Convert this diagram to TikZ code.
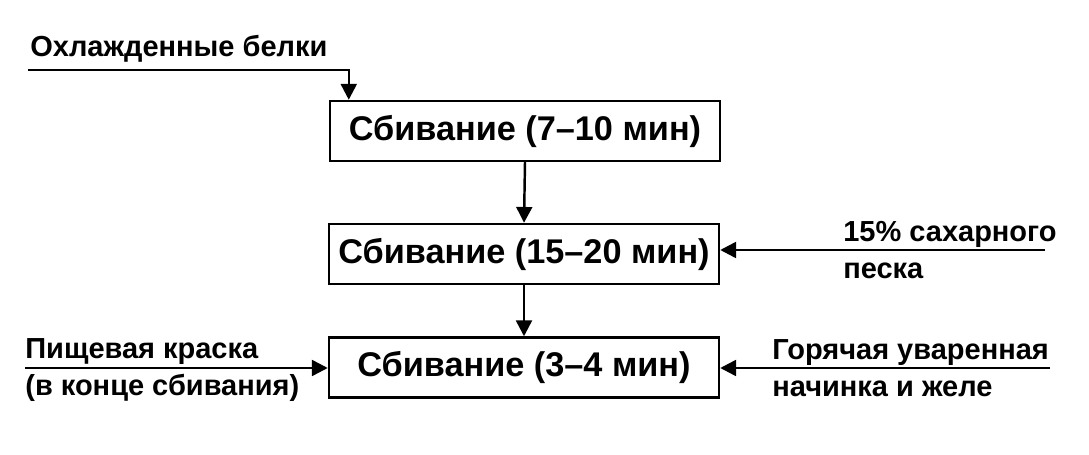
\documentclass[tikz,border=0pt]{standalone}
\usepackage{fontspec}
\setmainfont{Liberation Sans}
\usepackage{tikz}
\usetikzlibrary{arrows.meta, positioning, calc}

\begin{document}
\begin{tikzpicture}[
    stagebox/.style={draw, line width=1.4pt, minimum width=7.8cm, minimum height=1.2cm,
        font=\fontsize{19.5}{22}\selectfont\bfseries, inner sep=0pt},
    inlabel/.style={font=\fontsize{16.5}{21}\selectfont\bfseries, align=left, inner sep=0pt},
    feed/.style={line width=1.4pt, -{Triangle[length=9pt, width=9pt]}},
    >=Stealth
]
\useasboundingbox (0,0) rectangle (21.78,-9.1);

% --- Stages (center column) ---
\node[stagebox] (st1) at (10.5,-2.62) {Сбивание (7--10 мин)};
\node[stagebox] (st2) at (10.48,-5.08) {Сбивание (15--20 мин)};
\node[stagebox] (st3) at (10.48,-7.35) {Сбивание (3--4 мин)};

\draw[feed] (st1.south) -- (st2.north);
\draw[feed] (st2.south) -- (st3.north);

% --- Whites (top left) ---
\coordinate (whites) at (0.56,-1.4);
\node[inlabel, anchor=base west] (whiteslbl) at (0.6,-1.14) {Охлажденные белки};
\draw[feed] (whites) -| ($(st1.north west)+(0.4,0)$);

% --- Sugar (right of stage 2) ---
\coordinate (sugar) at (20.9,-5.0);
\node[inlabel, anchor=west] (sugarlbl) at (16.86,-5.0) {15\% сахарного\\песка};
\draw[feed] (sugar) -- (st2.east |- sugar);

% --- Colouring (left of stage 3) ---
\coordinate (colour) at (0.5,-7.36);
\node[inlabel, anchor=west] (colourlbl) at (0.5,-7.4) {Пищевая краска\\(в конце сбивания)};
\draw[feed] (colour) -- (st3.west |- colour);

% --- Filling (right of stage 3) ---
\coordinate (filling) at (21.0,-7.36);
\node[inlabel, anchor=west] (fillinglbl) at (15.44,-7.36) {Горячая уваренная\\начинка и желе};
\draw[feed] (filling) -- (st3.east |- filling);

\end{tikzpicture}
\end{document}
